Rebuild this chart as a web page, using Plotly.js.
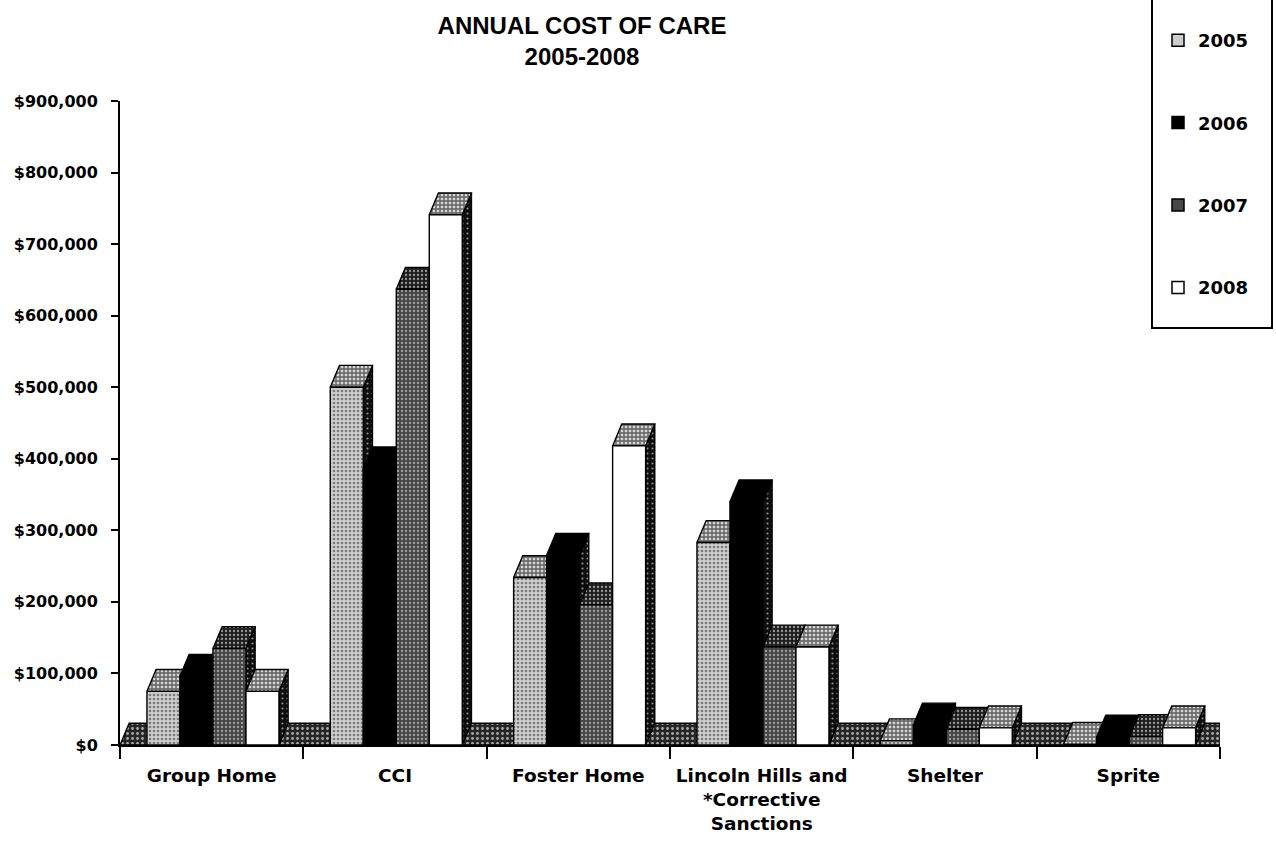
<!DOCTYPE html>
<html>
<head>
<meta charset="utf-8">
<script src="https://cdn.plot.ly/plotly-3.0.1.min.js"></script>
<style>html,body{margin:0;padding:0;background:#fff;}#chart{width:1276px;height:843px;}</style>
</head>
<body>
<div id="chart"></div>
<script>
// ---- data ----
const categories = ['Group Home', 'CCI', 'Foster Home', 'Lincoln Hills and<br>*Corrective<br>Sanctions', 'Shelter', 'Sprite'];
const years = ['2005', '2006', '2007', '2008'];
const cost2005 = [75000, 500000, 234000, 283000, 6000, 1000];
const cost2006 = [96000, 386000, 265000, 340000, 28000, 11000];
const cost2007 = [135000, 637000, 196000, 137000, 22000, 12000];
const cost2008 = [75000, 741000, 418000, 137000, 24000, 24000];
const yTickVals = [0, 100000, 200000, 300000, 400000, 500000, 600000, 700000, 800000, 900000];
const yTickText = yTickVals.map(v => '$' + v.toLocaleString('en-US'));

// ---- styling (3-D look) ----
const series = [cost2005, cost2006, cost2007, cost2008];
const barStart = -0.353, barWidth = 0.18, depthX = 0.05, depthY = 30500;
const frontStyle = [
  {bg: '#cdcdcd', fg: '#7a7a7a', size: 4, sol: 0.35},
  {bg: '#000000', fg: '#000000', size: 4, sol: 0.0},
  {bg: '#474747', fg: '#a0a0a0', size: 4, sol: 0.25},
  {bg: '#ffffff', fg: '#ffffff', size: 4, sol: 0.0}
];
const topStyle = [
  {bg: '#6e6e6e', fg: '#d8d8d8', size: 4, sol: 0.35},
  {bg: '#000000', fg: '#000000', size: 4, sol: 0.0},
  {bg: '#1e1e1e', fg: '#9a9a9a', size: 4, sol: 0.25},
  {bg: '#6e6e6e', fg: '#d8d8d8', size: 4, sol: 0.35}
];
const sideStyle = {bg: '#0e0e0e', fg: '#8c8c8c', size: 5, sol: 0.15};
const floorStyle = {bg: '#262626', fg: '#a8a8a8', size: 5, sol: 0.25};

function polyTrace(xs, ys, st, name) {
  return {
    type: 'scatter', mode: 'lines', x: xs, y: ys, fill: 'toself',
    fillcolor: st.bg,
    fillpattern: {shape: st.sol > 0 ? '.' : '', bgcolor: st.bg, fgcolor: st.fg, size: st.size, solidity: st.sol},
    line: {color: '#000', width: 1.4}, hoverinfo: 'skip', showlegend: false, name: name
  };
}

const traces = [];
// floor
{
  const x0 = -0.5, x1 = categories.length - 0.5;
  traces.push(polyTrace([x0, x1, x1 + depthX, x0 + depthX, x0], [0, 0, depthY, depthY, 0], floorStyle, 'floor'));
}
series.forEach((vals, k) => {
  const sx = [], sy = [], tx = [], ty = [], fx = [], fy = [];
  vals.forEach((v, i) => {
    const xl = i + barStart + k * barWidth, xr = xl + barWidth;
    sx.push(xr, xr + depthX, xr + depthX, xr, xr, null);
    sy.push(0, depthY, v + depthY, v, 0, null);
    tx.push(xl, xr, xr + depthX, xl + depthX, xl, null);
    ty.push(v, v, v + depthY, v + depthY, v, null);
    fx.push(xl, xr, xr, xl, xl, null);
    fy.push(0, 0, v, v, 0, null);
  });
  traces.push(polyTrace(sx, sy, sideStyle, years[k] + ' side'));
  traces.push(polyTrace(tx, ty, topStyle[k], years[k] + ' top'));
  traces.push(polyTrace(fx, fy, frontStyle[k], years[k]));
});
// legend entries
years.forEach((yr, k) => {
  traces.push({
    type: 'scatter', mode: 'markers', x: [null], y: [null], name: yr, legendgroup: yr,
    marker: {symbol: 'square', size: 12, color: frontStyle[k].bg, line: {color: '#000', width: 1.5}},
    hoverinfo: 'skip', showlegend: true
  });
});

const tickFont = {family: 'DejaVu Sans, Arial, sans-serif', size: 16, color: '#000', weight: 'bold'};

const layout = {
  width: 1276, height: 843,
  margin: {l: 120, r: 56, t: 101, b: 98, autoexpand: false},
  paper_bgcolor: '#fff', plot_bgcolor: '#fff',
  title: {
    text: '<b>ANNUAL COST OF CARE<br>2005-2008</b>',
    font: {family: 'Liberation Sans, Arial, sans-serif', size: 24, color: '#000'},
    xref: 'container', x: 582 / 1276, xanchor: 'center',
    yref: 'container', y: 1 - 34 / 843, yanchor: 'top'
  },
  xaxis: {
    range: [-0.5, categories.length - 0.5],
    tickmode: 'array', tickvals: categories.map((c, i) => i), ticktext: categories,
    ticks: '', showgrid: false, zeroline: false,
    showline: true, linecolor: '#000', linewidth: 2,
    tickfont: {family: 'DejaVu Sans, Arial, sans-serif', size: 18.5, color: '#000', weight: 'bold'},
    ticklabelstandoff: 13,
    minor: {tickmode: 'linear', tick0: -0.5, dtick: 1, ticks: 'outside', ticklen: 12, tickwidth: 2, tickcolor: '#000', showgrid: false},
    fixedrange: true
  },
  yaxis: {
    range: [0, 900000], tickmode: 'array', tickvals: yTickVals, ticktext: yTickText,
    ticks: 'outside', ticklen: 7, tickwidth: 2, tickcolor: '#000',
    showgrid: false, zeroline: false,
    showline: true, linecolor: '#000', linewidth: 2,
    tickfont: tickFont, ticklabelstandoff: 10,
    fixedrange: true
  },
  showlegend: true,
  legend: {
    xref: 'container', yref: 'container',
    x: 1158 / 1276, xanchor: 'left', y: 1 - 22 / 843, yanchor: 'top',
    font: {family: 'DejaVu Sans, Arial, sans-serif', size: 18, color: '#000', weight: 'bold'},
    tracegroupgap: 56, itemwidth: 30,
    bgcolor: 'rgba(0,0,0,0)', borderwidth: 0
  },
  shapes: [{
    type: 'rect', xref: 'paper', yref: 'paper',
    x0: (1152 - 120) / 1100, x1: (1272 - 120) / 1100,
    y0: (745 - 328) / 644, y1: (745 + 2) / 644,
    line: {color: '#000', width: 2}, fillcolor: 'rgba(0,0,0,0)', layer: 'above'
  }]
};

Plotly.newPlot('chart', traces, layout, {displayModeBar: false, staticPlot: true});
</script>
</body>
</html>
